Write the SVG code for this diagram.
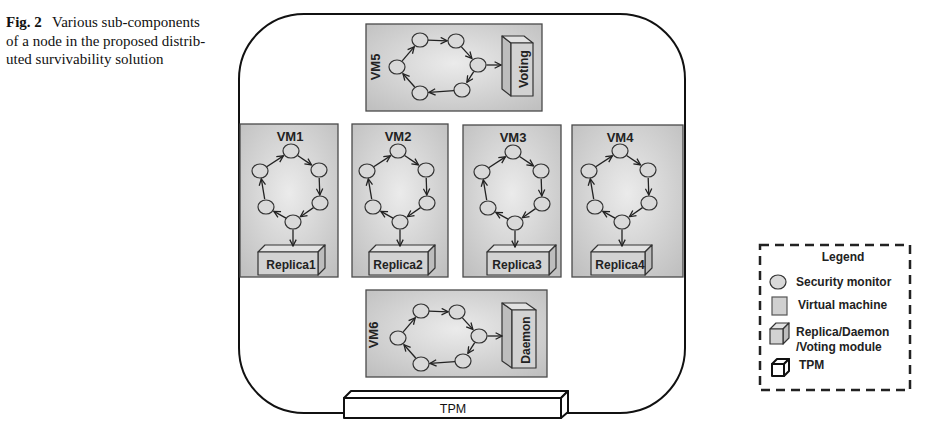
<svg xmlns="http://www.w3.org/2000/svg" xmlns:xlink="http://www.w3.org/1999/xlink" width="929" height="441" viewBox="0 0 929 441">
<style>
.cap{font-family:"Liberation Serif","Times New Roman",serif;font-size:15px;fill:#111}
.lbl{font-family:"Liberation Sans",Arial,sans-serif;font-weight:bold;fill:#222}
.vm{fill:url(#vmg);stroke:#4a4a4a;stroke-width:1.3}
.mon{fill:#d9d9d9;stroke:#333;stroke-width:1.2}
.bx{fill:#d2d2d2;stroke:#333;stroke-width:1.2;stroke-linejoin:round}
.bxt{fill:#e2e2e2;stroke:#333;stroke-width:1.2;stroke-linejoin:round}
.bxs{fill:#bdbdbd;stroke:#333;stroke-width:1.2;stroke-linejoin:round}
.arr{fill:none;stroke:#222;stroke-width:1.3;marker-end:url(#ah)}
.tpm{fill:#fff;stroke:#111;stroke-width:2;stroke-linejoin:round}
</style>
<defs>
<radialGradient id="vmg" cx="0.5" cy="0.45" r="0.7">
<stop offset="0" stop-color="#ebebeb"/>
<stop offset="1" stop-color="#c0c0c0"/>
</radialGradient>
<marker id="ah" viewBox="0 0 10 10" refX="9" refY="5" markerWidth="8" markerHeight="8" markerUnits="userSpaceOnUse" orient="auto">
<path d="M1,1 L9,5 L1,9" fill="none" stroke="#222" stroke-width="1.6"/>
</marker>
<g id="ringVc">
<ellipse class="mon" cx="0" cy="0" rx="8" ry="7"/>
<ellipse class="mon" cx="28" cy="19" rx="8" ry="7"/>
<ellipse class="mon" cx="29" cy="52" rx="8" ry="7"/>
<ellipse class="mon" cx="2" cy="71" rx="8" ry="7"/>
<ellipse class="mon" cx="-25" cy="56" rx="8" ry="7"/>
<ellipse class="mon" cx="-31" cy="20" rx="8" ry="7"/>
</g>
<g id="ringVa">
<path class="arr" d="M6.6,4.5 L20.5,13.9"/>
<path class="arr" d="M28.2,27 L28.8,44"/>
<path class="arr" d="M22.5,56.6 L9.4,65.8"/>
<path class="arr" d="M-5,67.1 L-17.1,60.4"/>
<path class="arr" d="M-26.3,48.1 L-29.7,27.9"/>
<path class="arr" d="M-24.3,15.7 L-7.6,4.9"/>
<path class="arr" d="M2,78.5 L2,95"/>
</g>
<g id="ringHc">
<ellipse class="mon" cx="-40" cy="1" rx="8" ry="7"/>
<ellipse class="mon" cx="-17" cy="-26" rx="8" ry="7"/>
<ellipse class="mon" cx="19" cy="-25" rx="8" ry="7"/>
<ellipse class="mon" cx="41" cy="-1" rx="8" ry="7"/>
<ellipse class="mon" cx="25" cy="24" rx="8" ry="7"/>
<ellipse class="mon" cx="-17" cy="27" rx="8" ry="7"/>
</g>
<g id="ringHa">
<path class="arr" d="M-34.8,-5.1 L-22.8,-19.2"/>
<path class="arr" d="M-9,-25.8 L10,-25.2"/>
<path class="arr" d="M24.4,-19.1 L34.9,-7.6"/>
<path class="arr" d="M36.7,5.7 L29.9,16.4"/>
<path class="arr" d="M17,24.6 L-8,26.4"/>
<path class="arr" d="M-22.3,21 L-34,7.7"/>
<path class="arr" d="M49.5,-1 L64,-1"/>
</g>
</defs>

<g id="caption">
<text class="cap" x="6" y="27"><tspan font-weight="bold">Fig. 2</tspan><tspan x="52">Various sub-components</tspan></text>
<text class="cap" x="6" y="45.5">of a node in the proposed distrib-</text>
<text class="cap" x="6" y="64">uted survivability solution</text>
</g>

<g id="node-host">
<rect x="239" y="14" width="446" height="399" rx="65" ry="65" fill="#fff" stroke="#111" stroke-width="2"/>
</g>

<g id="vm5">
<rect class="vm" x="366" y="24" width="176" height="87"/>
<text class="lbl" font-size="13" text-anchor="middle" transform="translate(375,67) rotate(-90)" dy="4.5">VM5</text>
<use xlink:href="#ringHc" x="437" y="66"/>
<g id="voting">
<polygon class="bxs" points="511,43 502,36 502,89 511,96"/>
<polygon class="bxt" points="511,43 502,36 524,36 533,43"/>
<rect class="bx" x="511" y="43" width="22" height="53"/>
<text class="lbl" font-size="12.5" text-anchor="middle" transform="translate(523,69) rotate(-90)" dy="4.5">Voting</text>
</g>
</g>

<g id="vm1">
<rect class="vm" x="240" y="124" width="98" height="153"/>
<text class="lbl" font-size="13" x="290" y="141" text-anchor="middle">VM1</text>
<use xlink:href="#ringVc" x="291" y="151"/>
<g id="replica1">
<polygon class="bxt" points="258,252 265,245 325,245 318,252"/>
<polygon class="bxs" points="318,252 325,245 325,268 318,275"/>
<rect class="bx" x="258" y="252" width="60" height="23"/>
<text class="lbl" font-size="12" x="291" y="269" text-anchor="middle">Replica1</text>
</g>
</g>

<g id="vm2">
<rect class="vm" x="352" y="124" width="96" height="153"/>
<text class="lbl" font-size="13" x="398" y="141" text-anchor="middle">VM2</text>
<use xlink:href="#ringVc" x="398" y="151"/>
<g id="replica2">
<polygon class="bxt" points="369,252 376,245 435,245 428,252"/>
<polygon class="bxs" points="428,252 435,245 435,268 428,275"/>
<rect class="bx" x="369" y="252" width="59" height="23"/>
<text class="lbl" font-size="12" x="398" y="269" text-anchor="middle">Replica2</text>
</g>
</g>

<g id="vm3">
<rect class="vm" x="463" y="125" width="98" height="152"/>
<text class="lbl" font-size="13" x="513" y="142" text-anchor="middle">VM3</text>
<use xlink:href="#ringVc" x="513" y="152"/>
<g id="replica3">
<polygon class="bxt" points="487,252 494,245 556,245 549,252"/>
<polygon class="bxs" points="549,252 556,245 556,268 549,275"/>
<rect class="bx" x="487" y="252" width="62" height="23"/>
<text class="lbl" font-size="12" x="517" y="269" text-anchor="middle">Replica3</text>
</g>
</g>

<g id="vm4">
<rect class="vm" x="572" y="125" width="111" height="152"/>
<text class="lbl" font-size="13" x="620" y="142" text-anchor="middle">VM4</text>
<use xlink:href="#ringVc" x="620" y="151"/>
<g id="replica4">
<polygon class="bxt" points="591,252 598,245 652,245 645,252"/>
<polygon class="bxs" points="645,252 652,245 652,268 645,275"/>
<rect class="bx" x="591" y="252" width="54" height="23"/>
<text class="lbl" font-size="12" x="620" y="269" text-anchor="middle">Replica4</text>
</g>
</g>

<g id="vm6">
<rect class="vm" x="366" y="290" width="181" height="87"/>
<text class="lbl" font-size="13" text-anchor="middle" transform="translate(373,335) rotate(-90)" dy="4.5">VM6</text>
<use xlink:href="#ringHc" x="438" y="337"/>
<g id="daemon">
<polygon class="bxs" points="512,310 502,303 502,361 512,368"/>
<polygon class="bxt" points="512,310 502,303 526,303 536,310"/>
<rect class="bx" x="512" y="310" width="24" height="58"/>
<text class="lbl" font-size="12" text-anchor="middle" transform="translate(525,340) rotate(-90)" dy="4.5">Daemon</text>
</g>
</g>

<g id="tpm">
<polygon class="tpm" points="344,398 351,391 568,391 561,398"/>
<polygon class="tpm" points="561,398 568,391 568,412 561,418"/>
<rect class="tpm" x="344" y="398" width="217" height="20"/>
<text x="453" y="413" text-anchor="middle" font-family="Liberation Sans, Arial, sans-serif" font-size="12.5" fill="#111">TPM</text>
</g>

<g id="connectors">
<use xlink:href="#ringHa" x="437" y="66"/>
<use xlink:href="#ringVa" x="291" y="151"/>
<use xlink:href="#ringVa" x="398" y="151"/>
<use xlink:href="#ringVa" x="513" y="152"/>
<use xlink:href="#ringVa" x="620" y="151"/>
<use xlink:href="#ringHa" x="438" y="337"/>
</g>

<g id="legend">
<rect x="760" y="245" width="150" height="145" fill="none" stroke="#222" stroke-width="2.5" stroke-dasharray="9,6"/>
<text class="lbl" font-size="12" x="843" y="261" text-anchor="middle">Legend</text>
<ellipse class="mon" cx="778" cy="282" rx="8" ry="7" stroke="#555"/>
<text class="lbl" font-size="12" x="796" y="286">Security monitor</text>
<rect x="772" y="297" width="15" height="18" fill="#d0d0d0" stroke="#555" stroke-width="1.2"/>
<text class="lbl" font-size="12" x="798" y="309">Virtual machine</text>
<polygon class="bxt" points="770,329 776,323 789,323 783,329" stroke="#555"/>
<polygon class="bxs" points="783,329 789,323 789,338 783,344" stroke="#555"/>
<rect class="bx" x="770" y="329" width="13" height="15" stroke="#555"/>
<text class="lbl" font-size="12" x="796" y="336">Replica/Daemon</text>
<text class="lbl" font-size="12" x="796" y="351">/Voting module</text>
<polygon class="tpm" points="772,364 777,359 789,359 784,364"/>
<polygon class="tpm" points="784,364 789,359 789,371 784,376"/>
<rect class="tpm" x="772" y="364" width="12" height="12"/>
<text class="lbl" font-size="12" x="799" y="369">TPM</text>
</g>
</svg>
